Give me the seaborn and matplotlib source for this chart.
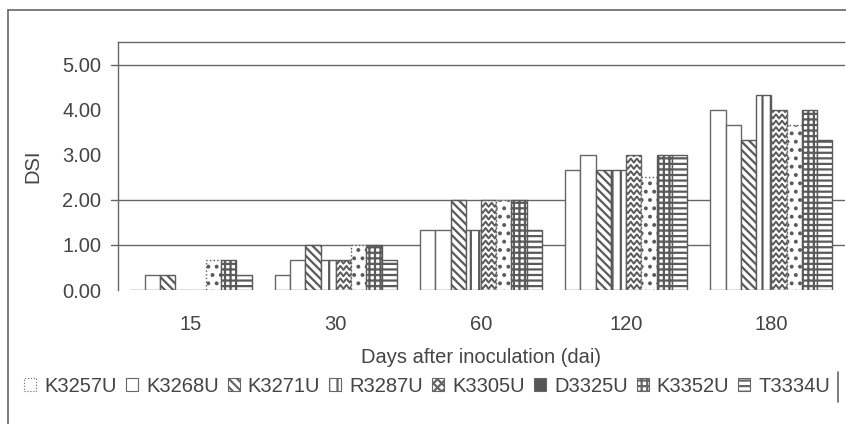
import matplotlib
matplotlib.use("Agg")
import matplotlib.pyplot as plt
import matplotlib.patches as mpatches
from matplotlib.lines import Line2D
import seaborn as sns
import numpy as np
import pandas as pd

# days after inoculation (categories)
days = ["15", "30", "60", "120", "180"]
isolates = ["K3257U", "K3268U", "K3271U", "R3287U", "K3305U", "D3325U", "K3352U", "T3334U"]

# DSI per isolate, one value per day
k3257u = [0.00, 0.33, 1.33, 2.67, 4.00]
k3268u = [0.33, 0.67, 1.33, 3.00, 3.67]
k3271u = [0.33, 1.00, 2.00, 2.67, 3.33]
r3287u = [0.00, 0.67, 1.33, 2.67, 4.33]
k3305u = [0.00, 0.67, 2.00, 3.00, 4.00]
d3325u = [0.67, 1.00, 2.00, 2.50, 3.67]
k3352u = [0.67, 1.00, 2.00, 3.00, 4.00]
t3334u = [0.33, 0.67, 1.33, 3.00, 3.33]
series = [k3257u, k3268u, k3271u, r3287u, k3305u, d3325u, k3352u, t3334u]

yticks = [0, 1, 2, 3, 4, 5]
gridlines = [1, 2, 5]

rows = []
for name, vals in zip(isolates, series):
    for d, v in zip(days, vals):
        rows.append({"dai": d, "DSI": v, "isolate": name})
df = pd.DataFrame(rows)

sns.set_style("white")
plt.rcParams["font.family"] = ["Liberation Sans", "DejaVu Sans"]
plt.rcParams["hatch.linewidth"] = 1.6

edge = "#666666"
hatch_col = "#5a5a5a"
txt = "#444444"
hatches = ["", "", "\\\\\\\\", "||", "", "..", "+++", "---"]

fig = plt.figure(figsize=(8.46, 4.24), dpi=100)
ax = fig.add_axes([118 / 846, 1 - 290 / 424, (844 - 118) / 846, (290 - 42) / 424])

sns.barplot(data=df, x="dai", y="DSI", hue="isolate", order=days, hue_order=isolates,
            palette=["white"] * 8, saturation=1, width=0.84, errorbar=None,
            edgecolor=edge, linewidth=1.0, legend=False, ax=ax)

for i, cont in enumerate(ax.containers):
    for rect in cont:
        rect.set_hatch(hatches[i])
        rect.set_edgecolor(hatch_col if hatches[i] else edge)
        if i == 5:
            rect.set_linestyle(":")
        if i == 4 and rect.get_height() > 0:
            # zigzag fill drawn inside the bar
            x0, w, h = rect.get_x(), rect.get_width(), rect.get_height()
            xs = x0 + np.linspace(-0.1, 1.1, 7) * w
            yy = 0.07
            while yy < h + 0.1:
                ys = yy + np.array([0.045, -0.045] * 4)[:7]
                ln, = ax.plot(xs, ys, color=hatch_col, lw=1.4)
                ln.set_clip_path(rect)
                yy += 0.14

ax.set_ylim(0, 5.5)
ax.set_yticks(yticks)
ax.set_yticklabels([f"{t:.2f}" for t in yticks])
for g in gridlines:
    ax.axhline(g, xmin=-0.009, xmax=1, color=edge, lw=1.0, clip_on=False, zorder=0.5)

ax.set_xlim(-0.5, len(days) - 0.5)
ax.set_xticks(range(len(days)))
ax.set_xticklabels(days)
ax.set_xticks(np.arange(len(days) - 1) + 0.5, minor=True)
ax.tick_params(axis="x", which="major", length=0, pad=18, labelsize=14.5, labelcolor=txt)
ax.tick_params(axis="x", which="minor", length=5, color=edge, width=1)
ax.tick_params(axis="y", length=0, pad=12, labelsize=14.5, labelcolor=txt)

ax.set_xlabel("Days after inoculation (dai)", fontsize=14.5, color=txt, labelpad=10)
ax.set_ylabel("DSI", fontsize=14.5, color=txt, labelpad=14)

for s in ["right", "bottom"]:
    ax.spines[s].set_visible(False)
for s in ["left", "top"]:
    ax.spines[s].set_color(edge)
    ax.spines[s].set_linewidth(1.0)

# legend with small pattern swatches
leg_faces = ["white", "white", "white", "white", "white", "#555555", "white", "white"]
leg_hatch = ["", "", "\\\\\\\\", "||", "xxxx", "", "+++", "---"]
handles = [mpatches.Patch(facecolor=f, edgecolor=edge, hatch=h, lw=0.8)
           for f, h in zip(leg_faces, leg_hatch)]
handles[0].set_linestyle(":")
fig.legend(handles, isolates, loc="center", bbox_to_anchor=(0.505, 1 - 386 / 424), ncol=8,
           frameon=False, handlelength=0.6, handleheight=0.6, handletextpad=0.4,
           columnspacing=0.45, fontsize=14.5, labelcolor=txt)

# outer chart border lines
fig.add_artist(Line2D([8 / 846, 8 / 846], [0, 1 - 10 / 424], color=edge, lw=1.2))
fig.add_artist(Line2D([8 / 846, 1], [1 - 10 / 424, 1 - 10 / 424], color=edge, lw=1.2))
fig.add_artist(Line2D([838 / 846, 838 / 846], [1 - 402 / 424, 1 - 372 / 424], color=edge, lw=1.2))

fig.savefig("out.png", dpi=100)
